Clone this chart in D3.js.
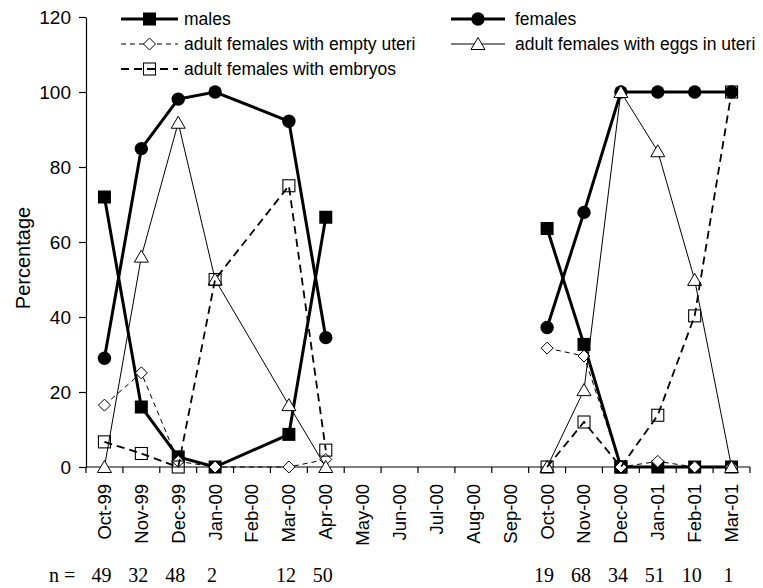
<html>
  <head>
    <title>Percentage by month</title>
    <script src="https://cdn.jsdelivr.net/npm/d3@7"></script>
    <style type="text/css">
        * {
            padding: 0px;
            margin: 0px;
        }
        body {
            background: white;
        }
        text {
            font-family: "Liberation Sans", Arial, sans-serif;
            fill: black;
        }
        text.serif {
            font-family: "Liberation Serif", "Times New Roman", serif;
        }
    </style>
  </head>
  <body>
    <svg id="viz"></svg>
  </body>
</html>

<script>
    // data
    var months = ["Oct-99", "Nov-99", "Dec-99", "Jan-00", "Feb-00", "Mar-00", "Apr-00", "May-00", "Jun-00",
                  "Jul-00", "Aug-00", "Sep-00", "Oct-00", "Nov-00", "Dec-00", "Jan-01", "Feb-01", "Mar-01"];
    // which sampling season each month belongs to (0 = not sampled)
    var season = [1, 1, 1, 1, 1, 1, 1, 0, 0, 0, 0, 0, 2, 2, 2, 2, 2, 2];
    var males      = [72, 16, 2.7, 0, null, 8.7, 66.6, null, null, null, null, null, 63.6, 32.7, 0, 0, 0, 0];
    var females    = [29, 84.9, 98.1, 100, null, 92.2, 34.5, null, null, null, null, null, 37.2, 67.9, 100, 100, 100, 100];
    var emptyUteri = [16.5, 25.1, 1.5, 0, null, 0, 2, null, null, null, null, null, 31.7, 29.6, 0, 1.5, 0, 0];
    var eggsUteri  = [0, 56.1, 91.8, 50, null, 16.5, 0, null, null, null, null, null, 0, 20.5, 100, 84.2, 49.9, 0];
    var embryos    = [6.7, 3.6, 0, 50, null, 75, 4.5, null, null, null, null, null, 0, 12, 0, 13.8, 40.3, 100];
    var nValues    = [49, 32, 48, 2, null, 12, 50, null, null, null, null, null, 19, 68, 34, 51, 10, 1];
    var yTicks = [0, 20, 40, 60, 80, 100, 120];

    var w = 763, h = 588;

    var viz = d3.select("#viz")
        .attr("width", w)
        .attr("height", h);

    var x = d3.scaleBand().domain(months).range([86, 750]);
    var y = d3.scaleLinear().domain([0, 120]).range([467, 17]);

    function cx(m) { return x(m) + x.bandwidth() / 2; }

    // marker drawing helpers
    function marker(g, kind, px, py) {
        if (kind == "square") {
            g.append("rect").attr("x", px - 6.5).attr("y", py - 6.5).attr("width", 13).attr("height", 13)
                .style("fill", "black");
        } else if (kind == "circle") {
            g.append("circle").attr("cx", px).attr("cy", py).attr("r", 6.7).style("fill", "black");
        } else if (kind == "diamond") {
            g.append("path")
                .attr("d", "M" + px + "," + (py - 6) + "L" + (px + 6) + "," + py + "L" + px + "," + (py + 6) + "L" + (px - 6) + "," + py + "Z")
                .style("fill", "white").style("stroke", "black").style("stroke-width", 1);
        } else if (kind == "triangle") {
            g.append("path")
                .attr("d", "M" + px + "," + (py - 6.5) + "L" + (px + 7) + "," + (py + 5.5) + "L" + (px - 7) + "," + (py + 5.5) + "Z")
                .style("fill", "white").style("stroke", "black").style("stroke-width", 1);
        } else if (kind == "opensquare") {
            g.append("rect").attr("x", px - 6).attr("y", py - 6).attr("width", 12).attr("height", 12)
                .style("fill", "none").style("stroke", "black").style("stroke-width", 1.1);
        }
    }

    var series = [
        { name: "males", values: males, marker: "square", width: 3, dash: null, col: 0, row: 0 },
        { name: "females", values: females, marker: "circle", width: 3, dash: null, col: 1, row: 0 },
        { name: "adult females with empty uteri", values: emptyUteri, marker: "diamond", width: 1, dash: "5,4", col: 0, row: 1 },
        { name: "adult females with eggs in uteri", values: eggsUteri, marker: "triangle", width: 1, dash: null, col: 1, row: 1 },
        { name: "adult females with embryos", values: embryos, marker: "opensquare", width: 1.8, dash: "8,5", col: 0, row: 2 },
    ];

    // axes
    var yAxis = viz.append("g")
        .attr("transform", "translate(86,0)")
        .call(d3.axisLeft(y).tickValues(yTicks).tickSize(7).tickSizeOuter(0).tickPadding(8));
    yAxis.selectAll("text").style("font-size", "19px").attr("dy", "0.35em");
    yAxis.selectAll("line, path").style("stroke", "black").style("stroke-width", 1.2);

    viz.append("line")
        .attr("x1", x.range()[0]).attr("x2", x.range()[1])
        .attr("y1", y(0)).attr("y2", y(0))
        .style("stroke", "black").style("stroke-width", 1.2);

    var bounds = months.map((m) => x(m)).concat([x(months[months.length - 1]) + x.bandwidth()]);
    viz.selectAll(".xtick").data(bounds).enter().append("line")
        .attr("class", "xtick")
        .attr("x1", (d) => d).attr("x2", (d) => d)
        .attr("y1", y(0)).attr("y2", y(0) + 6)
        .style("stroke", "black").style("stroke-width", 1.2);

    viz.selectAll(".xlab").data(months).enter().append("text")
        .attr("class", "xlab")
        .attr("transform", (d) => "translate(" + cx(d) + ",484) rotate(-90)")
        .attr("text-anchor", "end")
        .attr("dy", "0.35em")
        .style("font-size", "18.5px")
        .text((d) => d);

    viz.append("text")
        .attr("transform", "translate(23,258) rotate(-90)")
        .attr("text-anchor", "middle")
        .attr("dy", "0.35em")
        .style("font-size", "20px")
        .text("Percentage");

    // sample sizes
    viz.append("text").attr("class", "serif").attr("x", 49).attr("y", 582)
        .style("font-size", "20px").text("n =");
    months.forEach(function (m, i) {
        if (nValues[i] == null) return;
        viz.append("text")
            .attr("class", "serif")
            .attr("x", cx(m) - 3).attr("y", 582)
            .attr("text-anchor", "middle")
            .style("font-size", "20px")
            .text(nValues[i]);
    });

    // lines and markers
    var lineGen = d3.line()
        .x((d) => cx(d.m))
        .y((d) => y(d.v));

    series.forEach(function (s) {
        var g = viz.append("g");
        [1, 2].forEach(function (k) {
            var pts = months.map((m, i) => ({ m: m, v: s.values[i], s: season[i] }))
                .filter((d) => d.s == k && d.v != null);
            g.append("path")
                .attr("d", lineGen(pts))
                .style("fill", "none")
                .style("stroke", "black")
                .style("stroke-width", s.width)
                .style("stroke-dasharray", s.dash);
        });
        months.forEach(function (m, i) {
            if (s.values[i] == null) return;
            marker(g, s.marker, cx(m), y(s.values[i]));
        });
    });

    // legend
    var legCols = [{ x1: 121, x2: 178, tx: 184 }, { x1: 451, x2: 505, tx: 515 }];
    var legRows = [19, 44, 69];
    series.forEach(function (s) {
        var c = legCols[s.col], ry = legRows[s.row];
        var g = viz.append("g");
        g.append("line")
            .attr("x1", c.x1).attr("x2", c.x2).attr("y1", ry).attr("y2", ry)
            .style("stroke", "black")
            .style("stroke-width", s.width)
            .style("stroke-dasharray", s.dash);
        marker(g, s.marker, (c.x1 + c.x2) / 2, ry);
        g.append("text")
            .attr("x", c.tx).attr("y", ry)
            .attr("dy", "0.35em")
            .style("font-size", "17.5px")
            .text(s.name);
    });
</script>
